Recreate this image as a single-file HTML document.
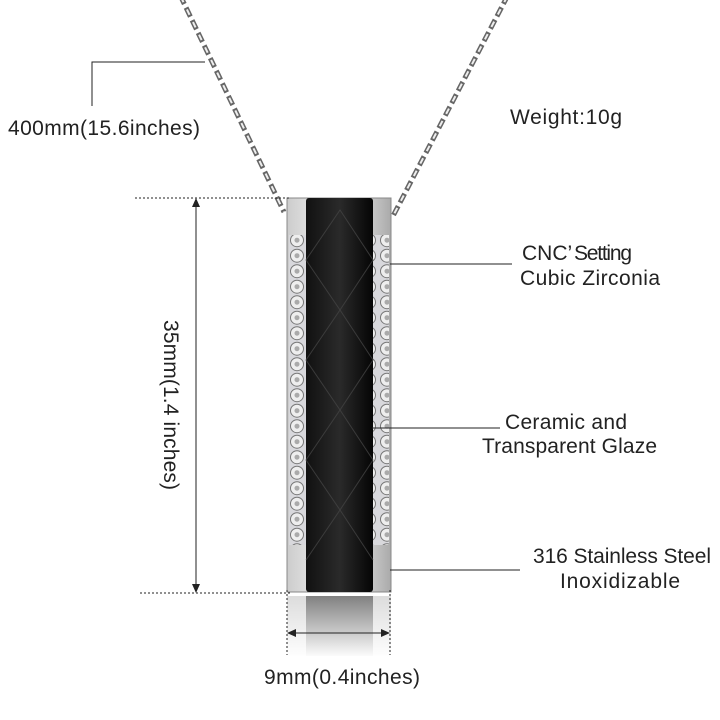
<!DOCTYPE html>
<html><head><meta charset="utf-8"><style>
body{margin:0;background:#fff}
svg{display:block}
text{font-family:"Liberation Sans",sans-serif;font-size:21px;fill:#222}
</style></head><body>
<svg width="720" height="720" viewBox="0 0 720 720">
<defs>
<linearGradient id="stone" x1="0" x2="1">
<stop offset="0" stop-color="#111"/><stop offset="0.5" stop-color="#2a2a2a"/><stop offset="1" stop-color="#050505"/>
</linearGradient>
<linearGradient id="metal" x1="0" x2="1">
<stop offset="0" stop-color="#ccc"/><stop offset="0.5" stop-color="#fafafa"/><stop offset="1" stop-color="#aaa"/>
</linearGradient>
<linearGradient id="fade" x1="0" y1="0" x2="0" y2="1">
<stop offset="0" stop-color="#fff" stop-opacity="0.3"/><stop offset="1" stop-color="#fff" stop-opacity="1"/>
</linearGradient>
<pattern id="cz" width="18" height="15.5" patternUnits="userSpaceOnUse">
<rect width="18" height="15.5" fill="#d8d8dc"/>
<circle cx="9" cy="7.7" r="6.5" fill="#eee" stroke="#777" stroke-width="1"/>
<circle cx="9" cy="7.7" r="2.5" fill="#aaa"/>
</pattern>
</defs>
<g fill="none" stroke="#666" stroke-width="5">
<path d="M180 -5 L284 212" stroke-dasharray="10 4"/>
<path d="M508 -5 L392 218" stroke-dasharray="10 4"/>
</g>
<g fill="none" stroke="#eee" stroke-width="2">
<path d="M180 -5 L284 212" stroke-dasharray="6 8" stroke-dashoffset="-2"/>
<path d="M508 -5 L392 218" stroke-dasharray="6 8" stroke-dashoffset="-2"/>
</g>
<rect x="287" y="198" width="104" height="394" fill="url(#metal)" stroke="#888"/>
<rect x="289" y="235" width="17" height="310" fill="url(#cz)"/>
<rect x="372" y="235" width="17" height="310" fill="url(#cz)"/>
<rect x="306" y="198" width="67" height="394" rx="3" fill="url(#stone)"/>
<g stroke="#444" stroke-width="1" fill="none" opacity="0.8">
<path d="M306 260 L340 210 L373 260 L340 310 Z M306 360 L340 310 L373 360 L340 410 Z M306 460 L340 410 L373 460 L340 510 Z M306 560 L340 510 L373 560"/>
</g>
<rect x="287" y="596" width="104" height="60" fill="#ccc"/>
<rect x="306" y="596" width="67" height="60" fill="#444"/>
<rect x="285" y="594" width="108" height="64" fill="url(#fade)"/>
<g stroke="#222" stroke-width="1" fill="none">
<path d="M92 106 V62 H205"/>
<path d="M135 198 H290 M140 593 H290" stroke-dasharray="2 2"/>
<path d="M287 590 V655 M390 590 V655" stroke-dasharray="2 2"/>
<path d="M196 200 V591"/>
<path d="M289 633 H388"/>
<path d="M390 264 H512 M372 428 H500 M390 570 H520"/>
</g>
<g fill="#222">
<path d="M196 198 l-4 9 h8z M196 593 l-4 -9 h8z"/>
<path d="M287 633 l9 -4 v8z M390 633 l-9 -4 v8z"/>
</g>
<text x="8" y="135" textLength="192">400mm(15.6inches)</text>
<text x="510" y="124" textLength="112">Weight:10g</text>
<text x="522" y="260">CNC’</text>
<text x="574" y="260" textLength="58">Setting</text>
<text x="520" y="285" textLength="140">Cubic Zirconia</text>
<text x="505" y="429" textLength="122">Ceramic and</text>
<text x="482" y="453" textLength="175">Transparent Glaze</text>
<text x="533" y="563" textLength="178">316 Stainless Steel</text>
<text x="560" y="588" textLength="120">Inoxidizable</text>
<text x="264" y="684" textLength="156">9mm(0.4inches)</text>
<text transform="translate(164,405) rotate(90)" text-anchor="middle" textLength="170">35mm(1.4 inches)</text>
</svg>
</body></html>
